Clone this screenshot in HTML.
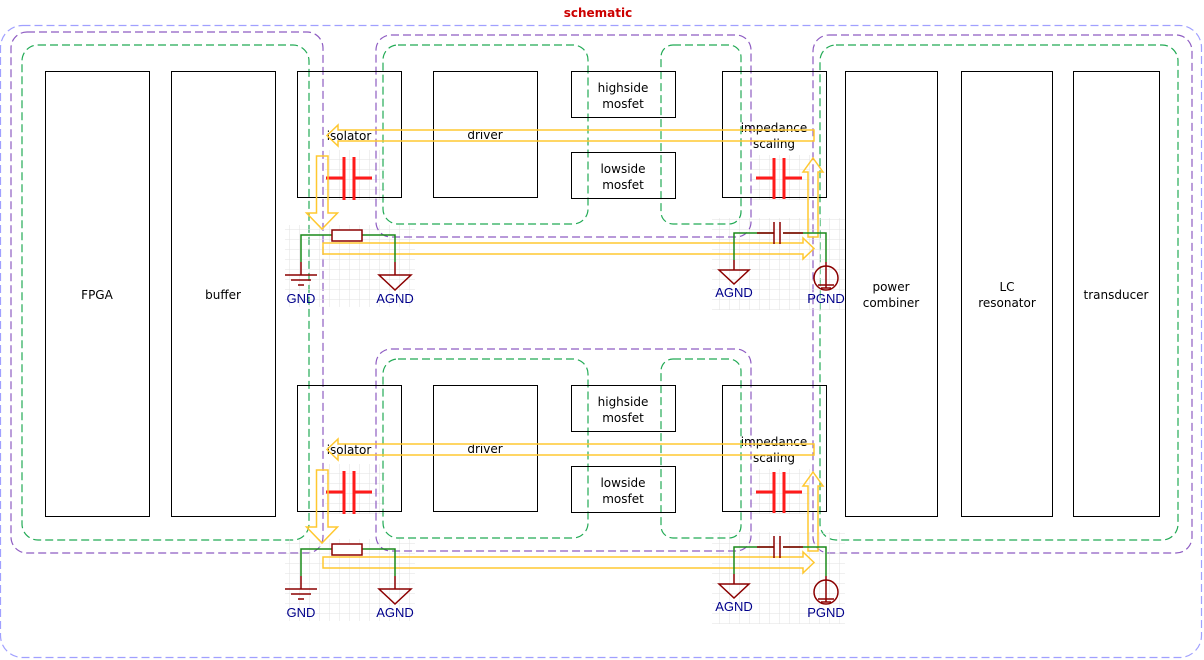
<!DOCTYPE html>
<html><head><meta charset="utf-8"><style>html,body{margin:0;padding:0;background:#fff}svg{display:block}</style></head>
<body>
<svg width="1204" height="660" viewBox="0 0 1204 660" xmlns="http://www.w3.org/2000/svg" font-family="DejaVu Sans, Liberation Sans, sans-serif" font-size="12">
<defs>
<pattern id="g" width="10" height="10" patternUnits="userSpaceOnUse"><path d="M10 0V10M0 10H10" stroke="#e2e2e2" stroke-width="1" fill="none"/></pattern>
<g id="half">
  <rect x="285" y="225" width="130" height="82" fill="url(#g)"/>
  <rect x="712" y="218" width="133" height="92" fill="url(#g)"/>
  <rect x="325" y="150" width="60" height="50" fill="url(#g)"/>
  <rect x="750" y="155" width="60" height="45" fill="url(#g)"/>
  <rect x="376" y="35" width="375" height="202" rx="15" fill="none" stroke="#8e5cc2" stroke-width="1.2" stroke-dasharray="8,4"/>
  <rect x="383" y="45" width="205" height="179" rx="15" fill="none" stroke="#22aa55" stroke-width="1.2" stroke-dasharray="8,4"/>
  <rect x="661" y="45" width="80" height="179" rx="12" fill="none" stroke="#22aa55" stroke-width="1.2" stroke-dasharray="8,4"/>
  <g fill="none" stroke="#000">
    <rect x="297.5" y="71.5" width="104" height="126"/>
    <rect x="433.5" y="71.5" width="104" height="126"/>
    <rect x="571.5" y="71.5" width="104" height="46"/>
    <rect x="571.5" y="152.5" width="104" height="46"/>
    <rect x="722.5" y="71.5" width="104" height="126"/>
  </g>
  <text x="349" y="140" text-anchor="middle">isolator</text>
  <text x="485" y="139" text-anchor="middle">driver</text>
  <text x="623" y="92" text-anchor="middle">highside</text>
  <text x="623" y="108" text-anchor="middle">mosfet</text>
  <text x="623" y="173" text-anchor="middle">lowside</text>
  <text x="623" y="189" text-anchor="middle">mosfet</text>
  <text x="774" y="132" text-anchor="middle">impedance</text>
  <text x="774" y="148" text-anchor="middle">scaling</text>
  <g stroke="#ff1a1a" stroke-width="3">
    <path d="M326 178H344M354 178H372M344 157V200M354 157V200"/>
    <path d="M756 178H774M784 178H802M774 158V199M784 158V199"/>
  </g>
  <g fill="none" stroke="#ffc830" stroke-width="1.5">
    <path d="M814 130H338V125L327 135.5L338 146V141H814Z"/>
    <path d="M316.5 156V213H306.5L322 229L337.5 213H328V156Z"/>
    <path d="M323 243H803V238L814 248.5L803 259V254H323Z"/>
    <path d="M808 237V172H803L813 158L823 172H818V237Z"/>
  </g>
  <path d="M301 262V235H332M362 235H395V262" fill="none" stroke="#1a8a1a" stroke-width="1.5"/>
  <rect x="332" y="230" width="30" height="11" fill="#fff" stroke="#8b0000" stroke-width="1.5"/>
  <g stroke="#8b0000" stroke-width="1.5" fill="none">
    <path d="M301 262V275M285 275H317M291 280H311M298 285H304"/>
    <path d="M395 262V275M379 275H411L395 290Z"/>
  </g>
  <text x="301" y="303" text-anchor="middle" fill="#00008b" font-family="Liberation Sans, sans-serif" font-size="13">GND</text>
  <text x="395" y="303" text-anchor="middle" fill="#00008b" font-family="Liberation Sans, sans-serif" font-size="13">AGND</text>
  <path d="M734 260V233H774M783 233H826V262" fill="none" stroke="#1a8a1a" stroke-width="1.5"/>
  <g stroke="#8b0000" stroke-width="1.5" fill="none">
    <path d="M757 233H774M783 233H803M774 222V244M780 222V244"/>
    <path d="M734 260V270M719 270H749L734 284Z"/>
    <path d="M826 262V288"/>
    <circle cx="826" cy="278" r="12"/>
    <path d="M818 285H834M821 288H831"/>
  </g>
  <text x="734" y="297" text-anchor="middle" fill="#00008b" font-family="Liberation Sans, sans-serif" font-size="13">AGND</text>
  <text x="826" y="303" text-anchor="middle" fill="#00008b" font-family="Liberation Sans, sans-serif" font-size="13">PGND</text>
</g>
</defs>
<rect width="1204" height="660" fill="#fff"/>
<text x="598" y="17" text-anchor="middle" fill="#cc0000" font-weight="bold" font-size="12">schematic</text>
<rect x="0.5" y="25.5" width="1201" height="632" rx="22" fill="none" stroke="#a0a0ff" stroke-width="1.2" stroke-dasharray="8,4"/>
<rect x="11" y="32" width="312" height="521" rx="16" fill="none" stroke="#8e5cc2" stroke-width="1.2" stroke-dasharray="8,4"/>
<rect x="22" y="45" width="287" height="495" rx="16" fill="none" stroke="#22aa55" stroke-width="1.2" stroke-dasharray="8,4"/>
<rect x="813" y="35" width="379" height="518" rx="16" fill="none" stroke="#8e5cc2" stroke-width="1.2" stroke-dasharray="8,4"/>
<rect x="820" y="45" width="358" height="495" rx="16" fill="none" stroke="#22aa55" stroke-width="1.2" stroke-dasharray="8,4"/>
<g fill="none" stroke="#000">
  <rect x="45.5" y="71.5" width="104" height="445"/>
  <rect x="171.5" y="71.5" width="104" height="445"/>
  <rect x="845.5" y="71.5" width="92" height="445"/>
  <rect x="961.5" y="71.5" width="91" height="445"/>
  <rect x="1073.5" y="71.5" width="86" height="445"/>
</g>
<text x="97" y="299" text-anchor="middle">FPGA</text>
<text x="223" y="299" text-anchor="middle">buffer</text>
<text x="891" y="291" text-anchor="middle">power</text>
<text x="891" y="307" text-anchor="middle">combiner</text>
<text x="1007" y="291" text-anchor="middle">LC</text>
<text x="1007" y="307" text-anchor="middle">resonator</text>
<text x="1116" y="299" text-anchor="middle">transducer</text>
<use href="#half"/>
<use href="#half" transform="translate(0,314)"/>
</svg>
</body></html>
